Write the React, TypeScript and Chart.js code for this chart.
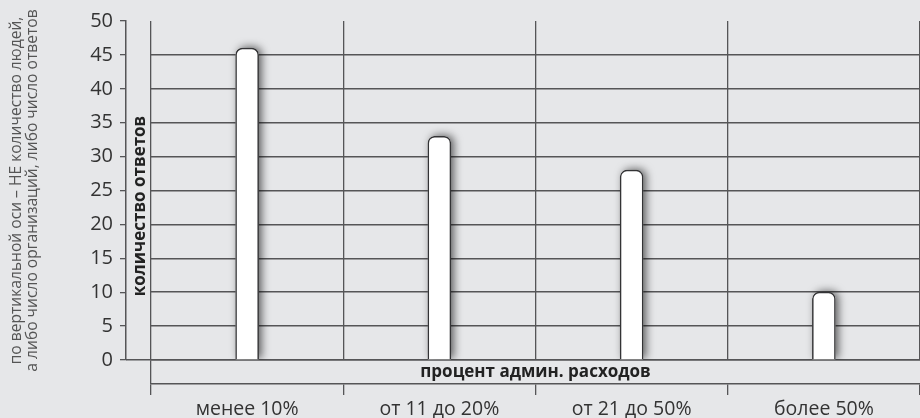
import React, { useEffect, useRef } from "react";
import { Chart, registerables } from "chart.js";

Chart.register(...registerables);

const categories = ["менее 10%", "от 11 до 20%", "от 21 до 50%", "более 50%"];
const responses = [46, 33, 28, 10];
const yMin = 0;
const yMax = 50;
const yStep = 5;
const xTitle = "процент админ. расходов";
const yTitle = "количество ответов";
const sideNote = [
  "по вертикальной оси – НЕ количество людей,",
  "а либо число организаций, либо число ответов",
];

const FONT = "'Open Sans', 'Noto Sans', sans-serif";
const LINE = "#555557";
const CLEAR = "rgba(0,0,0,0)";

// soft drop shadow behind each bar, placed from the bar elements the library computed
const shadowPlugin = {
  id: "barShadow",
  beforeDatasetsDraw(chart: any) {
    const ctx = chart.ctx;
    const area = chart.chartArea;
    const meta = chart.getDatasetMeta(0);
    ctx.save();
    ctx.beginPath();
    ctx.rect(area.left, area.top - 20, area.right - area.left, area.bottom - area.top + 20);
    ctx.clip();
    ctx.shadowColor = "rgba(0,0,0,0.6)";
    ctx.shadowBlur = 8;
    ctx.shadowOffsetX = 3;
    ctx.shadowOffsetY = -1;
    ctx.fillStyle = "#ffffff";
    meta.data.forEach((bar: any) => {
      const p = bar.getProps(["x", "y", "base", "width"], true);
      ctx.beginPath();
      if (ctx.roundRect) {
        ctx.roundRect(p.x - p.width / 2, p.y, p.width, p.base - p.y, [7, 7, 0, 0]);
      } else {
        ctx.rect(p.x - p.width / 2, p.y, p.width, p.base - p.y);
      }
      ctx.fill();
    });
    ctx.restore();
  },
};

export default function App() {
  const ref = useRef<HTMLCanvasElement | null>(null);

  useEffect(() => {
    if (!ref.current) return;
    const chart = new Chart(ref.current, {
      type: "bar",
      data: {
        labels: categories,
        datasets: [
          {
            data: responses,
            xAxisID: "x",
            yAxisID: "y",
            backgroundColor: "#ffffff",
            borderColor: "#333335",
            borderWidth: 1.5,
            borderSkipped: "start",
            borderRadius: { topLeft: 7, topRight: 7, bottomLeft: 0, bottomRight: 0 },
            barThickness: 23,
          },
        ],
      },
      options: {
        responsive: false,
        animation: false,
        devicePixelRatio: 1,
        layout: { padding: { top: 21, left: 0, right: -3, bottom: 0 } },
        plugins: {
          legend: { display: false },
          tooltip: { enabled: false },
          title: { display: false },
        },
        scales: {
          x: {
            type: "category",
            position: "bottom",
            weight: 0,
            offset: true,
            grid: {
              display: true,
              offset: true,
              drawOnChartArea: true,
              drawTicks: true,
              tickLength: 24,
              color: LINE,
              lineWidth: 1.3,
              tickColor: (c: any) => (c.index === 0 ? LINE : CLEAR),
              tickWidth: 1.3,
            },
            border: { display: true, color: LINE, width: 1.5 },
            ticks: { display: false },
            title: {
              display: true,
              text: xTitle,
              font: { family: FONT, size: 17, weight: "bold" },
              color: "#222",
              padding: { top: 0, bottom: 1.5 },
            },
            afterFit: (s: any) => {
              s.height = 24;
            },
          },
          x2: {
            type: "category",
            position: "bottom",
            weight: 1,
            labels: categories,
            offset: true,
            grid: {
              display: true,
              offset: true,
              drawOnChartArea: false,
              drawTicks: true,
              tickLength: 11,
              color: LINE,
              tickColor: LINE,
              lineWidth: 1.3,
            },
            border: { display: true, color: LINE, width: 1.5 },
            ticks: {
              font: { family: FONT, size: 19.5 },
              color: "#333",
              padding: 3,
              maxRotation: 0,
              autoSkip: false,
            },
            afterFit: (s: any) => {
              s.height = 34;
            },
          },
          y: {
            type: "linear",
            position: "left",
            weight: 0,
            min: yMin,
            max: yMax,
            ticks: { stepSize: yStep, display: false },
            grid: {
              display: true,
              drawOnChartArea: true,
              drawTicks: true,
              tickLength: 25,
              color: (c: any) => (c.tick && c.tick.value === yMax ? CLEAR : LINE),
              tickColor: (c: any) => (c.tick && c.tick.value === 0 ? LINE : CLEAR),
              lineWidth: 1.5,
            },
            border: { display: false },
            title: {
              display: true,
              text: yTitle + "       ",
              font: { family: FONT, size: 17, weight: "bold" },
              color: "#222",
              padding: { top: 4, bottom: 0 },
            },
            afterFit: (s: any) => {
              s.width = 25;
            },
          },
          y2: {
            type: "linear",
            position: "left",
            weight: 1,
            min: yMin,
            max: yMax,
            ticks: {
              stepSize: yStep,
              font: { family: FONT, size: 20 },
              color: "#333",
              padding: 7,
            },
            grid: {
              display: true,
              drawOnChartArea: false,
              drawTicks: true,
              tickLength: 6,
              color: LINE,
              tickColor: LINE,
              lineWidth: 1.3,
            },
            border: { display: true, color: LINE, width: 1.5 },
            title: {
              display: true,
              text: sideNote,
              font: { family: FONT, size: 15.6, lineHeight: 1.0 },
              color: "#555",
              padding: { top: 9, bottom: 0 },
            },
            afterFit: (s: any) => {
              s.width = 126;
            },
          },
        },
      },
      plugins: [shadowPlugin],
    } as any);
    return () => chart.destroy();
  }, []);

  return (
    <div
      style={{
        position: "absolute",
        left: 0,
        top: 0,
        width: 920,
        height: 418,
        background: "#e6e7e9",
        overflow: "hidden",
      }}
    >
      <canvas ref={ref} width={920} height={418} style={{ display: "block" }} />
    </div>
  );
}
